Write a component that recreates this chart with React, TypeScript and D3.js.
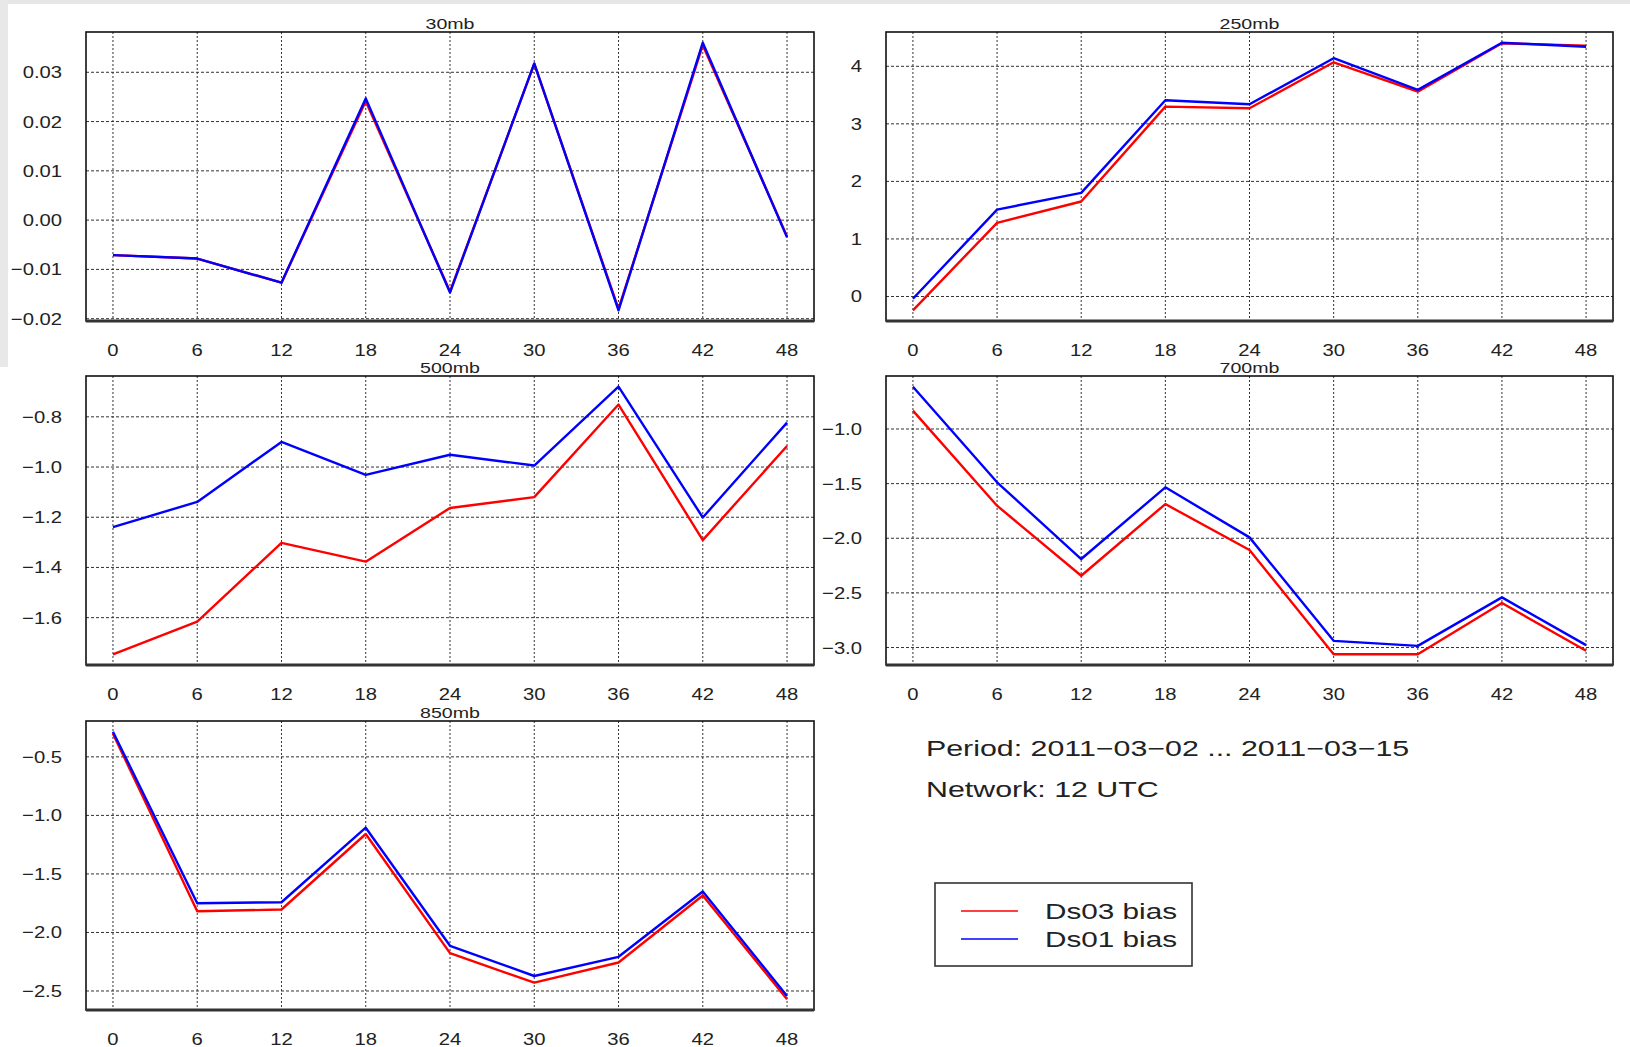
import React from "react";
import * as d3 from "d3";

// forecast lead times (hours)
const leadTimes = [0, 6, 12, 18, 24, 30, 36, 42, 48];

const panelTitles = ["30mb", "250mb", "500mb", "700mb", "850mb"];

// Ds03 bias (red) / Ds01 bias (blue), one pair per level
const ds03Bias30 = [-0.0071, -0.0078, -0.0127, 0.0241, -0.0145, 0.0317, -0.018, 0.0355, -0.0033];
const ds01Bias30 = [-0.0071, -0.0078, -0.0127, 0.0247, -0.0147, 0.0318, -0.0183, 0.036, -0.0035];

const ds03Bias250 = [-0.24, 1.28, 1.65, 3.3, 3.27, 4.07, 3.56, 4.4, 4.36];
const ds01Bias250 = [-0.04, 1.51, 1.8, 3.41, 3.34, 4.14, 3.59, 4.41, 4.34];

const ds03Bias500 = [-1.746, -1.616, -1.302, -1.377, -1.163, -1.12, -0.751, -1.291, -0.916];
const ds01Bias500 = [-1.239, -1.139, -0.9, -1.031, -0.951, -0.994, -0.68, -1.201, -0.823];

const ds03Bias700 = [-0.832, -1.702, -2.343, -1.687, -2.108, -3.062, -3.062, -2.593, -3.03];
const ds01Bias700 = [-0.613, -1.488, -2.19, -1.534, -1.992, -2.939, -2.985, -2.541, -2.978];

const ds03Bias850 = [-0.302, -1.819, -1.804, -1.159, -2.177, -2.429, -2.257, -1.684, -2.571];
const ds01Bias850 = [-0.285, -1.75, -1.742, -1.105, -2.114, -2.372, -2.208, -1.65, -2.543];

// y tick labels per panel
const yTicks30 = [-0.02, -0.01, 0, 0.01, 0.02, 0.03];
const yTicks250 = [0, 1, 2, 3, 4];
const yTicks500 = [-1.6, -1.4, -1.2, -1.0, -0.8];
const yTicks700 = [-3.0, -2.5, -2.0, -1.5, -1.0];
const yTicks850 = [-2.5, -2.0, -1.5, -1.0, -0.5];

const legendLabels = ["Ds03 bias", "Ds01 bias"];
const periodText = "Period: 2011\u221203\u221202 ... 2011\u221203\u221215";
const networkText = "Network: 12 UTC";

const FONT = "'Liberation Sans', Arial, Helvetica, sans-serif";
const RED = "#ff0000";
const BLUE = "#0000ff";

function SText({ x, y, size, sx, anchor = "start", fill = "#222", children }) {
  return (
    <text
      transform={`translate(${x},${y}) scale(${sx},1)`}
      fontFamily={FONT}
      fontSize={size}
      textAnchor={anchor}
      fill={fill}
    >
      {children}
    </text>
  );
}

function Panel({ title, red, blue, yTicks, fmt, left, top, width, height }) {
  // R style 4% padding on both axes
  const xExt = d3.extent(leadTimes);
  const xPad = (xExt[1] - xExt[0]) * 0.04;
  const x = d3.scaleLinear().domain([xExt[0] - xPad, xExt[1] + xPad]).range([left, left + width]);

  const yExt = d3.extent(red.concat(blue));
  const yPad = (yExt[1] - yExt[0]) * 0.04;
  const y = d3.scaleLinear().domain([yExt[0] - yPad, yExt[1] + yPad]).range([top + height, top]);

  const line = d3
    .line()
    .x((d, i) => x(leadTimes[i]))
    .y(d => y(d));

  const format = d3.format(fmt);
  const bottom = top + height;

  return (
    <g>
      <rect x={left} y={top} width={width} height={height} fill="#fff" />
      {/* grid */}
      {leadTimes.map(t => (
        <line key={"v" + t} x1={x(t)} x2={x(t)} y1={top} y2={bottom}
          stroke="#333" strokeWidth={1} strokeDasharray="2,2" />
      ))}
      {yTicks.map(v => (
        <line key={"h" + v} x1={left} x2={left + width} y1={y(v)} y2={y(v)}
          stroke="#333" strokeWidth={1} strokeDasharray="3,2" />
      ))}
      <path d={line(red)} fill="none" stroke={RED} strokeWidth={2.4} strokeLinejoin="round" />
      <path d={line(blue)} fill="none" stroke={BLUE} strokeWidth={2.4} strokeLinejoin="round" />
      {/* frame */}
      <rect x={left} y={top} width={width} height={height} fill="none" stroke="#111" strokeWidth={1.6} />
      <line x1={left} x2={left + width} y1={bottom} y2={bottom} stroke="#333" strokeWidth={3} />
      {/* y labels */}
      {yTicks.map(v => (
        <SText key={"yl" + v} x={left - 24} y={y(v) + 6} size={17} sx={1.19} anchor="end">
          {format(v)}
        </SText>
      ))}
      {/* x labels */}
      {leadTimes.map(t => (
        <SText key={"xl" + t} x={x(t)} y={bottom + 34.5} size={17} sx={1.19} anchor="middle">
          {t}
        </SText>
      ))}
      <SText x={left + width / 2} y={top - 3} size={14} sx={1.4} anchor="middle">
        {title}
      </SText>
    </g>
  );
}

export default function App() {
  const colL = 86;
  const colR = 886;
  const pw = 728;
  const rows = [32, 376, 721];
  const ph = 289;

  return (
    <svg
      width={1630}
      height={1047}
      style={{ position: "absolute", left: 0, top: 0, display: "block", background: "#fff" }}
    >
      <rect x={0} y={0} width={1630} height={1047} fill="#fff" />
      <rect x={0} y={0} width={1630} height={4} fill="#e6e6e6" />
      <rect x={0} y={0} width={8} height={367} fill="#e8e8e8" />

      <Panel title={panelTitles[0]} red={ds03Bias30} blue={ds01Bias30} yTicks={yTicks30} fmt=".2f"
        left={colL} top={rows[0]} width={pw} height={ph} />
      <Panel title={panelTitles[1]} red={ds03Bias250} blue={ds01Bias250} yTicks={yTicks250} fmt="d"
        left={colR} top={rows[0]} width={pw - 1} height={ph} />
      <Panel title={panelTitles[2]} red={ds03Bias500} blue={ds01Bias500} yTicks={yTicks500} fmt=".1f"
        left={colL} top={rows[1]} width={pw} height={ph} />
      <Panel title={panelTitles[3]} red={ds03Bias700} blue={ds01Bias700} yTicks={yTicks700} fmt=".1f"
        left={colR} top={rows[1]} width={pw - 1} height={ph} />
      <Panel title={panelTitles[4]} red={ds03Bias850} blue={ds01Bias850} yTicks={yTicks850} fmt=".1f"
        left={colL} top={rows[2]} width={pw} height={ph} />

      <SText x={926} y={756} size={22} sx={1.38}>{periodText}</SText>
      <SText x={926} y={797} size={22} sx={1.38}>{networkText}</SText>

      <rect x={935} y={883} width={257} height={83} fill="#fff" stroke="#333" strokeWidth={1.6} />
      <line x1={961} x2={1018} y1={911} y2={911} stroke={RED} strokeWidth={1.5} />
      <line x1={961} x2={1018} y1={939} y2={939} stroke={BLUE} strokeWidth={1.5} />
      <SText x={1045} y={918.5} size={22} sx={1.35}>{legendLabels[0]}</SText>
      <SText x={1045} y={946.5} size={22} sx={1.35}>{legendLabels[1]}</SText>
    </svg>
  );
}
